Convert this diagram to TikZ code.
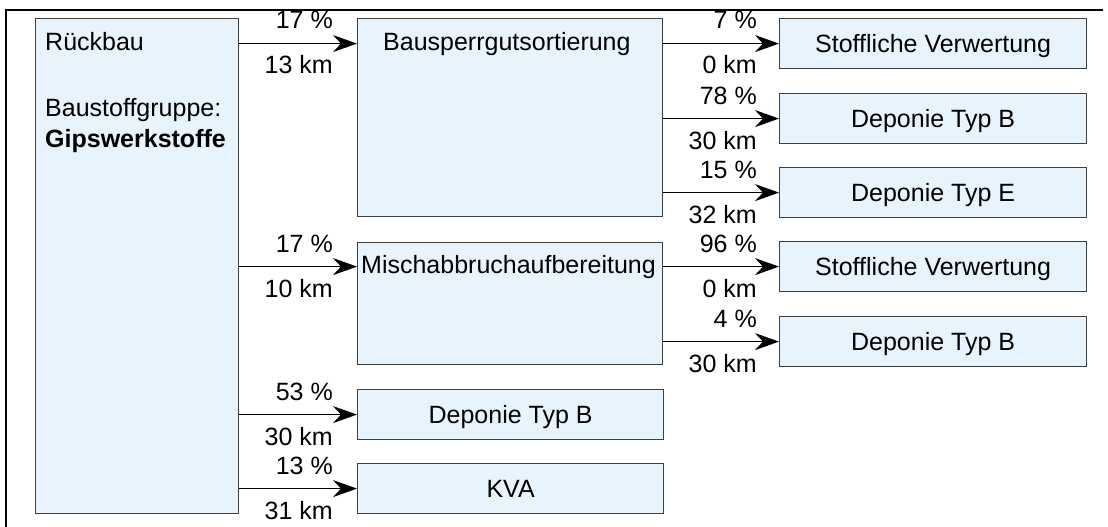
\documentclass[tikz,border=0pt]{standalone}
\usepackage{fontspec}
\setmainfont{Liberation Sans}
\usetikzlibrary{arrows.meta}
\definecolor{boxfill}{HTML}{E8F4FD}
\definecolor{boxline}{HTML}{404040}
\begin{document}
\begin{tikzpicture}[x=1pt,y=-1pt,
  font=\fontsize{25}{31}\selectfont,
  box/.style={draw=boxline, line width=1.2pt, fill=boxfill, inner sep=0pt, anchor=north west},
  small/.style={box, minimum width=307pt, minimum height=50pt, text height=18pt, text depth=0pt},
  arr/.style={-{Stealth[length=24pt,width=17pt,inset=8pt]}, line width=1.1pt},
  lab/.style={inner sep=0pt, anchor=base east},
  txt/.style={inner sep=0pt, anchor=base west}]
\useasboundingbox (0,0) rectangle (1108,527);
\draw[line width=2.2pt] (6,527) -- (6,10) -- (1103,10);

% boxes
\node[box, minimum width=203pt, minimum height=495pt] (rb) at (35,18) {};
\node[box, minimum width=305pt, minimum height=198pt] (bs) at (357,18) {};
\node[box, minimum width=305pt, minimum height=122pt] (mb) at (357,242) {};
\node[box, minimum width=306pt, minimum height=50pt, text height=18pt, text depth=0pt] (db3) at (357,389) {Deponie Typ B};
\node[box, minimum width=306pt, minimum height=50pt, text height=18pt, text depth=0pt] (kva) at (357,463) {KVA};
\node[small] (sv1) at (779,18) {Stoffliche Verwertung};
\node[small] (db1) at (779,93) {Deponie Typ B};
\node[small] (de) at (779,167) {Deponie Typ E};
\node[small] (sv2) at (779,241) {Stoffliche Verwertung};
\node[small] (db2) at (779,316) {Deponie Typ B};

% box texts
\node[txt] (t1) at (45,51) {Rückbau};
\node[txt] (t2) at (45,116) {Baustoffgruppe:};
\node[txt, font=\fontsize{25}{31}\selectfont\bfseries] (t3) at (45,147) {Gipswerkstoffe};
\node[txt] (t4) at (383,51) {Bausperrgutsortierung};
\node[txt] (t5) at (361,273) {Mischabbruchaufbereitung};

% arrows
\draw[arr] (rb.east |- sv1.west) -- (bs.west |- sv1.west);
\draw[arr] (rb.east |- sv2.west) -- (mb.west |- sv2.west);
\draw[arr] (rb.east |- db3.west) -- (db3.west);
\draw[arr] (rb.east |- kva.west) -- (kva.west);
\draw[arr] (bs.east |- sv1.west) -- (sv1.west);
\draw[arr] (bs.east |- db1.west) -- (db1.west);
\draw[arr] (bs.east |- de.west) -- (de.west);
\draw[arr] (mb.east |- sv2.west) -- (sv2.west);
\draw[arr] (mb.east |- db2.west) -- (db2.west);

% labels
\node[lab] (a1) at (333,29) {17 \%};
\node[lab] (b1) at (333,74) {13 km};
\node[lab] (a2) at (333,252) {17 \%};
\node[lab] (b2) at (333,297) {10 km};
\node[lab] (a3) at (333,400) {53 \%};
\node[lab] (b3) at (333,445) {30 km};
\node[lab] (a4) at (333,474) {13 \%};
\node[lab] (b4) at (333,519) {31 km};
\node[lab] (a5) at (757,29) {7 \%};
\node[lab] (b5) at (757,74) {0 km};
\node[lab] (a6) at (757,104) {78 \%};
\node[lab] (b6) at (757,149) {30 km};
\node[lab] (a7) at (757,178) {15 \%};
\node[lab] (b7) at (757,223) {32 km};
\node[lab] (a8) at (757,252) {96 \%};
\node[lab] (b8) at (757,297) {0 km};
\node[lab] (a9) at (757,327) {4 \%};
\node[lab] (b9) at (757,372) {30 km};
\end{tikzpicture}
\end{document}
